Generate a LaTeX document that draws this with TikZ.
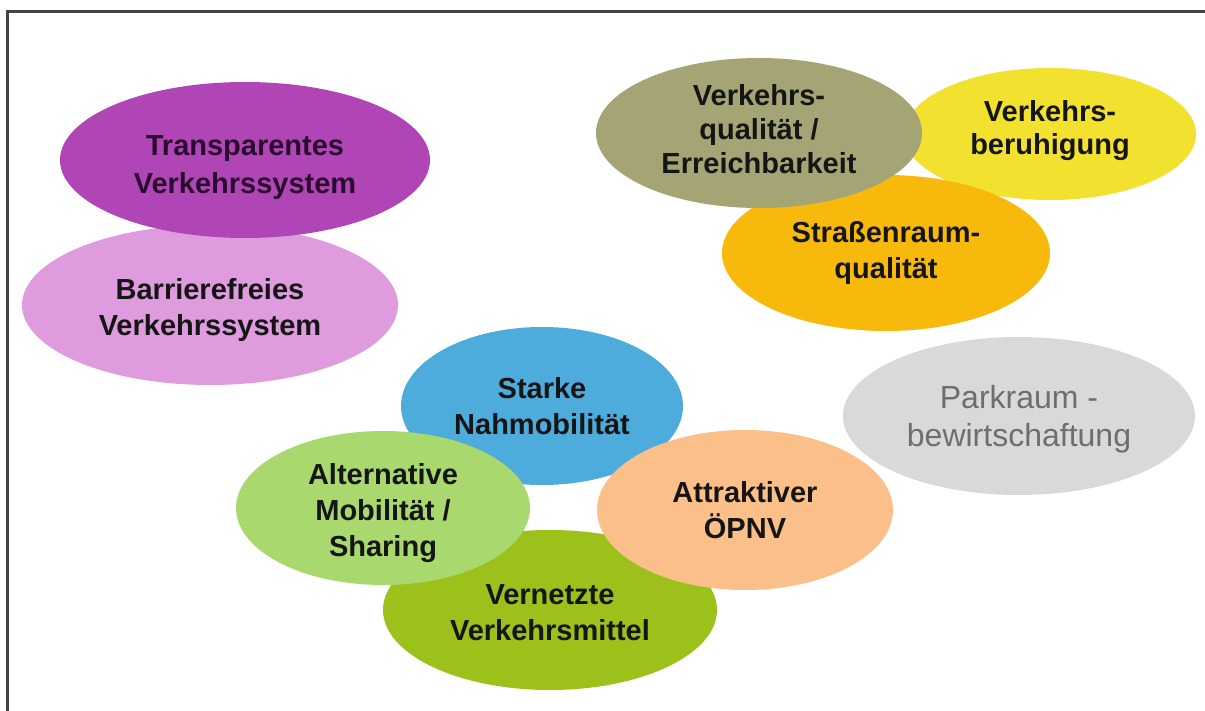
\documentclass[tikz,border=0pt]{standalone}
\usepackage{fontspec}
\setmainfont{Liberation Sans}
\usetikzlibrary{shapes.geometric}
\definecolor{cpurple}{HTML}{B046B5}
\definecolor{cpink}{HTML}{DE9CDE}
\definecolor{colive}{HTML}{A4A474}
\definecolor{cyellow}{HTML}{F2E12E}
\definecolor{corange}{HTML}{F7BA0C}
\definecolor{cgray}{HTML}{D9D9D9}
\definecolor{cblue}{HTML}{4EACDC}
\definecolor{clgreen}{HTML}{A9D96E}
\definecolor{cpeach}{HTML}{FBC08A}
\definecolor{cgreen}{HTML}{9DC11B}
\definecolor{ctxt}{HTML}{151515}
\definecolor{cptxt}{HTML}{2B0A30}
\definecolor{cgtxt}{HTML}{6E6E6E}
\definecolor{cframe}{HTML}{444444}
\tikzset{
  blob/.style={ellipse, inner sep=0pt, outer sep=0pt},
  lbl/.style={inner sep=0pt, align=center, text=ctxt,
    font=\bfseries\fontsize{29}{36}\selectfont},
}
\begin{document}
\begin{tikzpicture}[x=1pt,y=-1pt]
\useasboundingbox (0,0) rectangle (1205,711);
\fill[white] (0,0) rectangle (1205,711);
\coordinate (fa) at (7,711);
\coordinate (fb) at (7,12);
\coordinate (fc) at (1205,12);
\draw[cframe, line width=3pt] (fa) -- (fb) -- (fc);
% left group
\node[blob, fill=cpink, minimum width=376, minimum height=160] (barr) at (210,305) {};
\node[lbl] (barrT) at ([yshift=-5pt]barr.center) {Barrierefreies\\Verkehrssystem};
\node[blob, fill=cpurple, minimum width=370, minimum height=156] (trans) at (245,160) {};
\node[lbl, text=cptxt, font=\bfseries\fontsize{29}{38}\selectfont] (transT) at ([yshift=-8pt]trans.center) {Transparentes\\Verkehrssystem};
% top right group
\node[blob, fill=cyellow, minimum width=292, minimum height=132] (beru) at (1050,134) {};
\node[lbl, font=\bfseries\fontsize{29}{33}\selectfont] (beruT) at ([yshift=3pt]beru.center) {Verkehrs-\\beruhigung};
\node[blob, fill=corange, minimum width=328, minimum height=156] (strasse) at (886,253) {};
\node[lbl] (strasseT) at ([yshift=0pt]strasse.center) {Straßenraum-\\qualität};
\node[blob, fill=colive, minimum width=326, minimum height=150] (qual) at (759,133) {};
\node[lbl, font=\bfseries\fontsize{29}{34}\selectfont] (qualT) at ([yshift=4pt]qual.center) {Verkehrs-\\qualität /\\Erreichbarkeit};
% parking
\node[blob, fill=cgray, minimum width=352, minimum height=158] (park) at (1019,416) {};
\node[lbl, text=cgtxt, font=\fontsize{32}{38}\selectfont] (parkT) at ([yshift=-3pt]park.center) {Parkraum -\\bewirtschaftung};
% bottom group
\node[blob, fill=cblue, minimum width=282, minimum height=158] (nah) at (542,406) {};
\node[lbl] (nahT) at (nah.center) {Starke\\Nahmobilität};
\node[blob, fill=cgreen, minimum width=334, minimum height=160] (vern) at (550,610) {};
\node[lbl] (vernT) at ([yshift=-3pt]vern.center) {Vernetzte\\Verkehrsmittel};
\node[blob, fill=clgreen, minimum width=294, minimum height=154] (alt) at (383,508) {};
\node[lbl] (altT) at ([yshift=-5pt]alt.center) {Alternative\\Mobilität /\\Sharing};
\node[blob, fill=cpeach, minimum width=296, minimum height=160] (oepnv) at (745,510) {};
\node[lbl] (oepnvT) at (oepnv.center) {Attraktiver\\ÖPNV};
\end{tikzpicture}
\end{document}
